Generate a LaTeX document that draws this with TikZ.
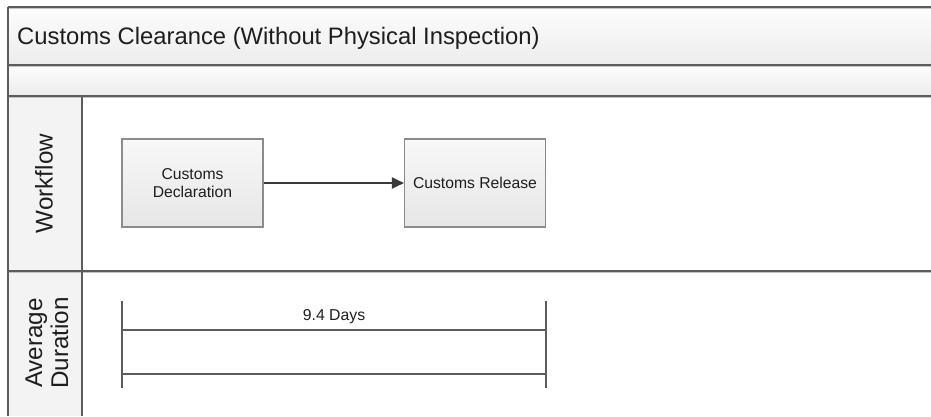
\documentclass[tikz,border=0pt]{standalone}
\usepackage{fontspec}
\setmainfont{Liberation Sans}
\usetikzlibrary{arrows.meta}

\definecolor{rulegray}{HTML}{5C5C5C}
\definecolor{shadowgray}{HTML}{C4C4C4}
\definecolor{bandtop}{HTML}{FDFDFD}
\definecolor{bandbottom}{HTML}{ECECEC}
\definecolor{headfill}{HTML}{F3F3F3}
\definecolor{boxline}{HTML}{8C8C8C}
\definecolor{boxtop}{HTML}{F8F8F8}
\definecolor{boxbottom}{HTML}{E6E6E6}
\definecolor{flowgray}{HTML}{3A3A3A}
\definecolor{textgray}{HTML}{1E1E1E}

\tikzset{
  laneline/.style={draw=rulegray, line width=1.6pt},
  laneshadow/.style={draw=shadowgray, line width=1pt},
  titletext/.style={font=\fontsize{23.8}{27}\selectfont, text=textgray, inner sep=0pt},
  lanelabel/.style={font=\fontsize{24.2}{26}\selectfont, text=textgray, rotate=90,
    align=center, inner sep=0pt},
  procbox/.style={draw=boxline, line width=1.1pt, top color=boxtop, bottom color=boxbottom,
    minimum width=141pt, minimum height=88pt, align=center, text=textgray,
    font=\fontsize{15.7}{18}\selectfont, inner sep=2pt},
  flow/.style={draw=flowgray, line width=1.9pt, -{Triangle[length=12pt,width=11pt]}},
  durline/.style={draw=rulegray, line width=1.6pt},
  durtext/.style={font=\fontsize{15.8}{18}\selectfont, text=textgray, inner sep=0pt}
}

\begin{document}
\begin{tikzpicture}[x=1pt,y=-1pt]
\useasboundingbox (0,0) rectangle (931,416);

% pool header bands
\shade[top color=bandtop, bottom color=bandbottom] (8,7) rectangle (931,65);
\shade[top color=bandtop, bottom color=bandbottom] (8,65) rectangle (931,96);

% lane header column and lane bodies
\fill[headfill] (8,96) rectangle (82,416);
\fill[white] (82,96) rectangle (931,416);

% band and lane separators with their soft shadow
\foreach \yy in {7,65,96,271} {
  \draw[laneshadow] (8,\yy+1.8) -- (931,\yy+1.8);
  \draw[laneline] (8,\yy) -- (931,\yy);
}
\draw[laneline] (8,7) -- (8,416);
\draw[laneline] (82,96) -- (82,416);

% titles
\node[titletext, anchor=base west] (title) at (17,44)
  {Customs Clearance (Without Physical Inspection)};
\node[lanelabel] (workflow) at (44,183.5) {Workflow};
\node[lanelabel] (duration) at (47,343) {Average\\Duration};

% workflow steps
\node[procbox] (decl) at (192.5,183) {Customs\\Declaration};
\node[procbox] (release) at (475,183) {Customs Release};
\draw[flow] (decl) -- (release);

% duration bar
\coordinate (lefttop) at (122,301);
\coordinate (leftbot) at (122,388);
\coordinate (righttop) at (546,301);
\coordinate (rightbot) at (546,388);
\coordinate (upperL) at (122,330);
\coordinate (upperR) at (546,330);
\coordinate (lowerL) at (122,374);
\coordinate (lowerR) at (546,374);
\draw[durline] (lefttop) -- (leftbot);
\draw[durline] (righttop) -- (rightbot);
\draw[durline] (upperL) -- (upperR);
\draw[durline] (lowerL) -- (lowerR);
\node[durtext, anchor=base] (days) at (334,320) {9.4 Days};
\end{tikzpicture}
\end{document}
